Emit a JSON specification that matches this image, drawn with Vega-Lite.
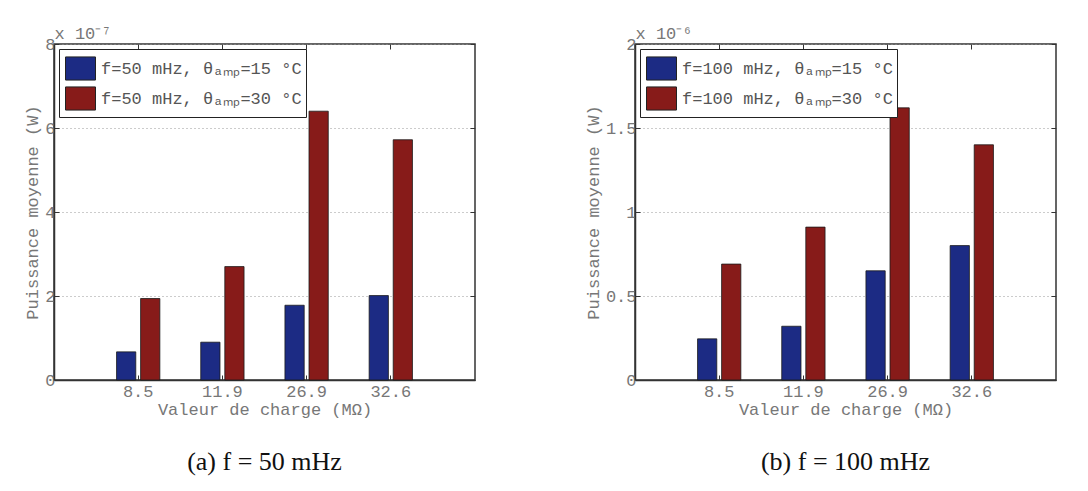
{
 "$schema": "https://vega.github.io/schema/vega-lite/v6.json",
 "background": "white",
 "padding": {"left": 23, "top": -3, "right": 5, "bottom": 5},
 "spacing": 106,
 "config": {
  "view": {"stroke": "#333", "strokeWidth": 1.5},
  "axis": {"labelFont": "Liberation Mono", "labelFontSize": 17, "labelColor": "#777", "titleFont": "Liberation Mono", "titleFontSize": 17, "titleColor": "#777", "titleFontWeight": "normal", "domainColor": "#333", "tickColor": "#333", "domainWidth": 1.5, "tickWidth": 1},
  "title": {"font": "Liberation Serif", "fontSize": 26, "fontWeight": "normal", "color": "#111", "orient": "bottom", "offset": 32, "anchor": "middle"},
  "legend": {"orient": "none", "legendX": 5, "legendY": 5, "strokeColor": "#222", "fillColor": "white", "padding": 4, "symbolOffset": 2, "symbolType": "M-1,-0.77H1V0.77H-1Z", "symbolSize": 900, "symbolStrokeColor": "#222", "symbolStrokeWidth": 1, "symbolOpacity": 1, "labelFont": "Liberation Mono", "labelFontSize": 17, "labelColor": "#555", "labelLimit": 400, "labelOffset": 5, "rowPadding": 0, "cornerRadius": 0}
 },
 "datasets": {
  "a": [
   {"charge": 8.5, "serie": "f=50 mHz, θₐₘₚ=15 °C", "puissance": 6.7e-8},
   {"charge": 8.5, "serie": "f=50 mHz, θₐₘₚ=30 °C", "puissance": 1.94e-7},
   {"charge": 11.9, "serie": "f=50 mHz, θₐₘₚ=15 °C", "puissance": 9.0e-8},
   {"charge": 11.9, "serie": "f=50 mHz, θₐₘₚ=30 °C", "puissance": 2.70e-7},
   {"charge": 26.9, "serie": "f=50 mHz, θₐₘₚ=15 °C", "puissance": 1.78e-7},
   {"charge": 26.9, "serie": "f=50 mHz, θₐₘₚ=30 °C", "puissance": 6.40e-7},
   {"charge": 32.6, "serie": "f=50 mHz, θₐₘₚ=15 °C", "puissance": 2.01e-7},
   {"charge": 32.6, "serie": "f=50 mHz, θₐₘₚ=30 °C", "puissance": 5.72e-7}
  ],
  "b": [
   {"charge": 8.5, "serie": "f=100 mHz, θₐₘₚ=15 °C", "puissance": 2.45e-7},
   {"charge": 8.5, "serie": "f=100 mHz, θₐₘₚ=30 °C", "puissance": 6.9e-7},
   {"charge": 11.9, "serie": "f=100 mHz, θₐₘₚ=15 °C", "puissance": 3.2e-7},
   {"charge": 11.9, "serie": "f=100 mHz, θₐₘₚ=30 °C", "puissance": 9.1e-7},
   {"charge": 26.9, "serie": "f=100 mHz, θₐₘₚ=15 °C", "puissance": 6.5e-7},
   {"charge": 26.9, "serie": "f=100 mHz, θₐₘₚ=30 °C", "puissance": 1.62e-6},
   {"charge": 32.6, "serie": "f=100 mHz, θₐₘₚ=15 °C", "puissance": 8.0e-7},
   {"charge": 32.6, "serie": "f=100 mHz, θₐₘₚ=30 °C", "puissance": 1.40e-6}
  ]
 },
 "hconcat": [
  {
   "width": 421, "height": 336,
   "title": "(a)  f = 50 mHz",
   "data": {"name": "a"},
   "layer": [
    {"mark": {"type": "bar", "stroke": "#1a1a1a", "strokeWidth": 0.8},
     "encoding": {
      "x": {"field": "charge", "type": "ordinal", "scale": {"paddingInner": 0.4286, "paddingOuter": 0.7143}, "axis": {"orient": "bottom", "title": "Valeur de charge (MΩ)", "labelAngle": 0, "tickSize": -5, "labelPadding": 8, "titlePadding": 2, "grid": false}},
      "xOffset": {"field": "serie", "type": "nominal", "scale": {"paddingInner": 0.2, "paddingOuter": 0.1}},
      "y": {"field": "puissance", "type": "quantitative", "scale": {"domain": [0, 8e-7], "nice": false}, "axis": {"orient": "left", "values": [0, 2e-7, 4e-7, 6e-7, 8e-7], "labelExpr": "format(datum.value*1e7, '~g')", "title": "Puissance moyenne (W)", "grid": true, "gridDash": [1, 3], "gridColor": "#999", "tickSize": -5, "labelPadding": 4, "titlePadding": 3}},
      "color": {"field": "serie", "type": "nominal", "scale": {"range": ["#1c2b84", "#871b19"]}, "legend": {"title": null}}
     }},
    {"mark": {"type": "bar", "opacity": 0},
     "encoding": {
      "x": {"field": "charge", "type": "ordinal", "axis": {"orient": "top", "labels": false, "domain": false, "tickSize": -5, "title": "x 10⁻⁷", "titleX": 0, "titleY": -2, "titleAlign": "left", "titleBaseline": "bottom", "titleAngle": 0}},
      "y": {"field": "puissance", "type": "quantitative", "axis": {"orient": "right", "labels": false, "domain": false, "grid": false, "tickSize": -5, "values": [0, 2e-7, 4e-7, 6e-7, 8e-7], "title": null}}
     }}
   ],
   "resolve": {"axis": {"x": "independent", "y": "independent"}}
  },
  {
   "width": 421, "height": 336,
   "title": "(b)  f = 100 mHz",
   "data": {"name": "b"},
   "layer": [
    {"mark": {"type": "bar", "stroke": "#1a1a1a", "strokeWidth": 0.8},
     "encoding": {
      "x": {"field": "charge", "type": "ordinal", "scale": {"paddingInner": 0.4286, "paddingOuter": 0.7143}, "axis": {"orient": "bottom", "title": "Valeur de charge (MΩ)", "labelAngle": 0, "tickSize": -5, "labelPadding": 8, "titlePadding": 2, "grid": false}},
      "xOffset": {"field": "serie", "type": "nominal", "scale": {"paddingInner": 0.2, "paddingOuter": 0.1}},
      "y": {"field": "puissance", "type": "quantitative", "scale": {"domain": [0, 2e-6], "nice": false}, "axis": {"orient": "left", "values": [0, 5e-7, 1e-6, 1.5e-6, 2e-6], "labelExpr": "format(datum.value*1e6, '~g')", "title": "Puissance moyenne (W)", "grid": true, "gridDash": [1, 3], "gridColor": "#999", "tickSize": -5, "labelPadding": 4, "titlePadding": 3}},
      "color": {"field": "serie", "type": "nominal", "scale": {"range": ["#1c2b84", "#871b19"]}, "legend": {"title": null}}
     }},
    {"mark": {"type": "bar", "opacity": 0},
     "encoding": {
      "x": {"field": "charge", "type": "ordinal", "axis": {"orient": "top", "labels": false, "domain": false, "tickSize": -5, "title": "x 10⁻⁶", "titleX": 0, "titleY": -2, "titleAlign": "left", "titleBaseline": "bottom", "titleAngle": 0}},
      "y": {"field": "puissance", "type": "quantitative", "axis": {"orient": "right", "labels": false, "domain": false, "grid": false, "tickSize": -5, "values": [0, 5e-7, 1e-6, 1.5e-6, 2e-6], "title": null}}
     }}
   ],
   "resolve": {"axis": {"x": "independent", "y": "independent"}}
  }
 ],
 "resolve": {"scale": {"color": "independent", "xOffset": "independent"}, "legend": {"color": "independent"}}
}
